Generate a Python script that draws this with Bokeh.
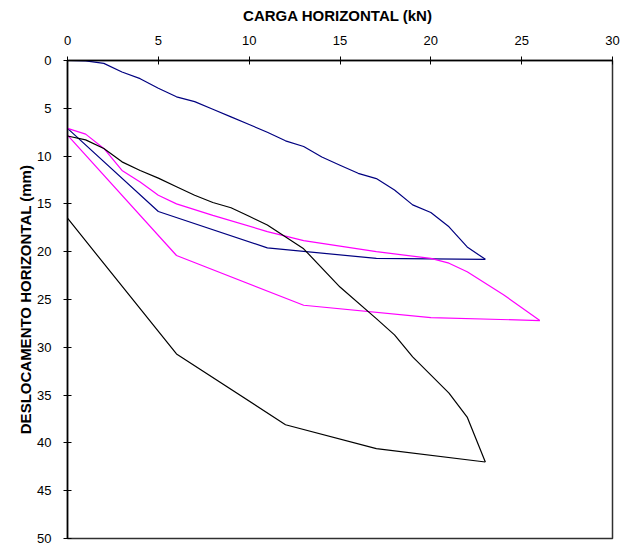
from bokeh.plotting import figure
from bokeh.models import Range1d, LinearAxis, FixedTicker
from bokeh.embed import file_html
from bokeh.resources import INLINE

# Cycle 1 (navy): loading and unloading
c1_load_x = [0, 1, 2, 3, 4, 5, 6, 7, 8, 9, 10, 11, 12, 13, 14, 15, 16, 17, 18, 19, 20, 21, 22, 23]
c1_load_y = [0, 0.03, 0.3, 1.2, 1.9, 2.9, 3.8, 4.3, 5.1, 5.9, 6.7, 7.5, 8.4, 9.0, 10.1, 10.95, 11.8, 12.35, 13.55, 15.1, 15.9, 17.4, 19.5, 20.8]
c1_unload_x = [23, 17, 11, 5, 0]
c1_unload_y = [20.8, 20.7, 19.6, 15.8, 7.1]

# Cycle 2 (magenta)
c2_load_x = [0, 1, 2, 3, 4, 5, 6, 8, 11, 13, 17, 20, 21, 22, 24, 26]
c2_load_y = [7.1, 7.7, 9.2, 11.5, 12.7, 14.1, 15.0, 16.2, 17.9, 18.85, 20.0, 20.7, 21.2, 22.1, 24.5, 27.2]
c2_unload_x = [26, 20, 13, 6, 0]
c2_unload_y = [27.2, 26.9, 25.6, 20.4, 7.8]

# Cycle 3 (black)
c3_load_x = [0, 1, 2, 3, 4, 5, 6, 7, 8, 9, 10, 11, 13, 15, 17, 18, 19, 21, 22, 23]
c3_load_y = [7.9, 8.3, 9.2, 10.6, 11.5, 12.3, 13.2, 14.1, 14.85, 15.4, 16.3, 17.2, 19.7, 23.7, 27.0, 28.7, 31.0, 34.8, 37.3, 42.0]
c3_unload_x = [23, 17, 12, 6, 0]
c3_unload_y = [42.0, 40.6, 38.1, 30.7, 16.5]

x_ticks = [0, 5, 10, 15, 20, 25, 30]
y_ticks = [0, 5, 10, 15, 20, 25, 30, 35, 40, 45, 50]

FONT = "Liberation Sans"

p = figure(frame_width=545, frame_height=478,
           x_range=Range1d(0, 30), y_range=Range1d(50, 0),
           output_backend="svg", toolbar_location=None,
           x_axis_location=None, y_axis_location=None,
           min_border_left=67, min_border_top=60, min_border_right=10, min_border_bottom=7)
p.grid.visible = False
p.background_fill_color = "white"
p.border_fill_color = "white"
p.outline_line_color = "#303030"
p.outline_line_width = 1.5

xa = LinearAxis(axis_label="CARGA  HORIZONTAL (kN)", ticker=FixedTicker(ticks=x_ticks))
ya = LinearAxis(axis_label="DESLOCAMENTO HORIZONTAL (mm)", ticker=FixedTicker(ticks=y_ticks))
for ax in (xa, ya):
    ax.axis_line_color = "black"
    ax.axis_line_width = 1.5
    ax.major_tick_line_color = "black"
    ax.major_tick_in = 4
    ax.major_tick_out = 4
    ax.minor_tick_line_color = None
    ax.major_label_text_font = FONT
    ax.major_label_text_font_size = "13px"
    ax.major_label_text_color = "black"
    ax.axis_label_text_font = FONT
    ax.axis_label_text_font_style = "bold"
    ax.axis_label_text_font_size = "15px"
    ax.axis_label_text_color = "black"
xa.major_label_standoff = 12
xa.axis_label_standoff = 9
ya.major_label_standoff = 12
ya.axis_label_standoff = 0
p.add_layout(xa, "above")
p.add_layout(ya, "left")

p.line(c1_load_x, c1_load_y, line_color="#000080", line_width=1.2)
p.line(c1_unload_x, c1_unload_y, line_color="#000080", line_width=1.2)
p.line(c2_load_x, c2_load_y, line_color="#FF00FF", line_width=1.2)
p.line(c2_unload_x, c2_unload_y, line_color="#FF00FF", line_width=1.2)
p.line(c3_load_x, c3_load_y, line_color="black", line_width=1.2)
p.line(c3_unload_x, c3_unload_y, line_color="black", line_width=1.2)

open("out.html", "w").write(file_html(p, INLINE))
